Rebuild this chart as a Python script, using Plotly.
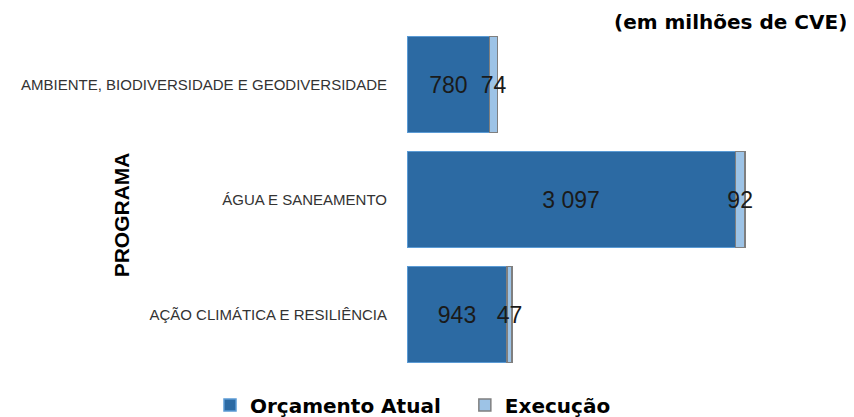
import plotly.graph_objects as go

# Programas (top to bottom) and values in millions of CVE
programas = [
    "AMBIENTE, BIODIVERSIDADE E GEODIVERSIDADE",
    "ÁGUA E SANEAMENTO",
    "AÇÃO CLIMÁTICA E RESILIÊNCIA",
]
orcamento_atual = [780, 3097, 943]
execucao = [74, 92, 47]

label_font = dict(family='Liberation Sans', size=23, color='#1a1a1a')

fig = go.Figure()
fig.add_trace(go.Bar(
    y=programas, x=orcamento_atual, orientation='h',
    name='<b>Orçamento Atual</b>\u00a0\u00a0\u00a0',
    marker=dict(color='#2C6AA3', line=dict(color='#5B9BD5', width=1.5)),
    texttemplate='%{x:,}', textposition='inside', insidetextanchor='middle',
    textfont=label_font,
))
fig.add_trace(go.Bar(
    y=programas, x=execucao, orientation='h',
    name='<b>Execução</b>',
    marker=dict(color='#9DC3E6', line=dict(color='#7F7F7F', width=1.5)),
    texttemplate='%{x:,}', textposition='inside', insidetextanchor='middle',
    textfont=label_font,
))
fig.update_traces(constraintext='none', cliponaxis=False, textangle=0)

# the page body keeps its default 8px margin, so the figure is 8px smaller
fig.update_layout(
    width=846, height=409,
    barmode='stack', bargap=0.165,
    separators=', ',
    plot_bgcolor='white', paper_bgcolor='white',
    margin=dict(l=399, r=76, t=19, b=45, autoexpand=False),
    showlegend=True,
    legend=dict(orientation='h', x=(210 - 407) / 371, xanchor='left',
                y=(372 - 405) / 345, yanchor='middle',
                font=dict(family='DejaVu Sans', size=20, color='black'),
                traceorder='normal'),
    font=dict(family='Liberation Sans'),
)
fig.update_yaxes(categoryorder='array', categoryarray=programas, autorange='reversed',
                 showline=False, showgrid=False, ticks='',
                 tickfont=dict(family='Liberation Sans', size=15, color='#333'),
                 ticklabelstandoff=19)
fig.update_xaxes(range=[0, 3500], visible=False)

# axis title and units
fig.add_annotation(text='<b>PROGRAMA</b>', textangle=-90, xref='paper', yref='paper',
                   x=(121 - 407) / 371, xanchor='center', y=0.454, showarrow=False,
                   font=dict(family='Liberation Sans', size=21, color='black'))
fig.add_annotation(text='<b>(em milhões de CVE)</b>', xref='paper', yref='paper',
                   x=(849 - 407) / 371, xanchor='right', y=1 + (27 - 22) / 345, yanchor='middle',
                   showarrow=False, font=dict(family='DejaVu Sans', size=20, color='black'))

fig.write_html("out.html")
